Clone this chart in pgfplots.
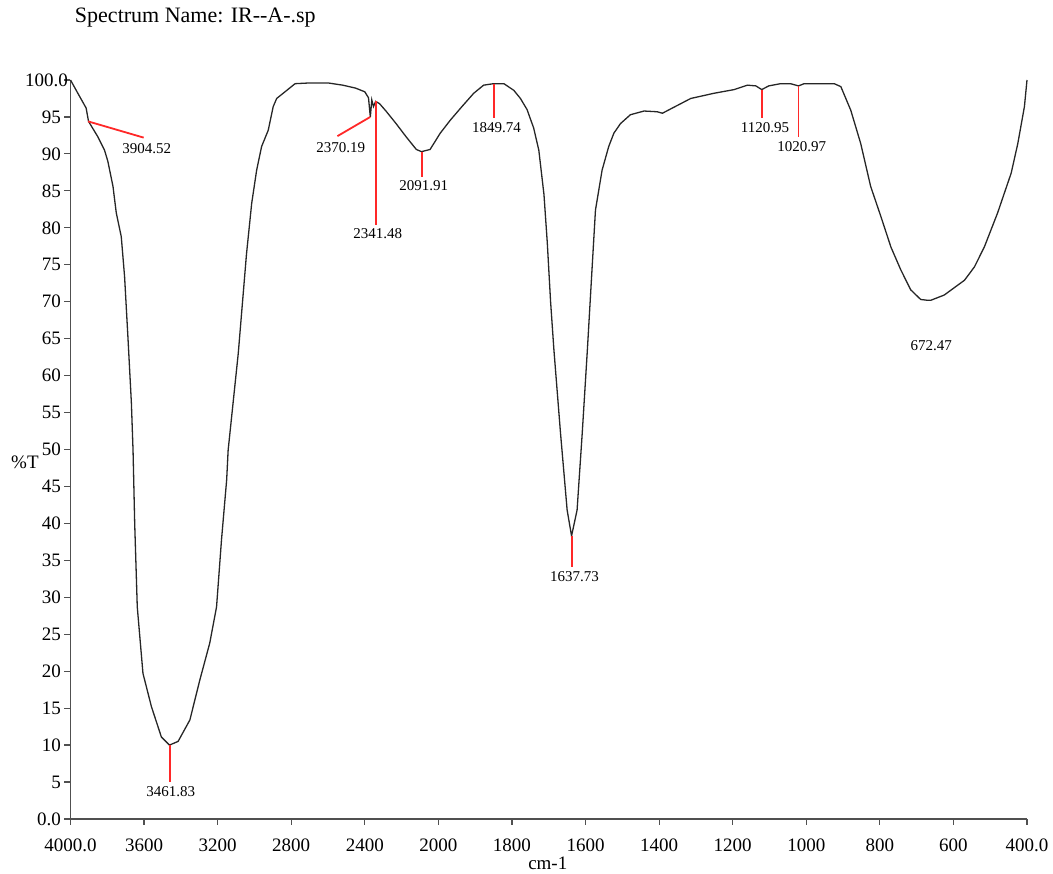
\documentclass[border=0pt]{standalone}
\usepackage{fontspec}
\setmainfont{Liberation Serif}
\usepackage{pgfplots}
\pgfplotsset{compat=1.18}
\definecolor{axgray}{RGB}{80,80,80}
\definecolor{pkred}{RGB}{255,40,40}
\begin{document}
\begin{tikzpicture}
\path[use as bounding box] (-70.5pt,-55pt) rectangle (982.5pt,819pt);
\begin{axis}[
  at={(0pt,0pt)}, anchor=south west,
  scale only axis, width=956.5pt, height=739pt,
  axis lines=left, axis line style={-, axgray, line width=1.6pt},
  x coord trafo/.code={\pgfmathparse{#1>=2000 ? (4000-#1)/2 : 3000-#1}},
  x coord inv trafo/.code={\pgfmathparse{#1<=1000 ? 4000-2*#1 : 3000-#1}},
  xmin=4000, xmax=400, ymin=0, ymax=100,
  xtick={4000,3600,3200,2800,2400,2000,1800,1600,1400,1200,1000,800,600,400},
  xticklabels={4000.0,3600,3200,2800,2400,2000,1800,1600,1400,1200,1000,800,600,400.0},
  ytick={0,5,...,100},
  yticklabels={0.0,5,10,15,20,25,30,35,40,45,50,55,60,65,70,75,80,85,90,95,100.0\kern-7pt},
  tick align=outside, major tick length=6pt,
  tick style={axgray, line width=1.2pt},
  /pgf/number format/assume math mode=true,
  ticklabel style={font=\fontsize{19}{19}\selectfont},
  xticklabel style={yshift=-10pt},
  clip=false,
]
\addplot[black!85, line width=1.3pt] coordinates {
(4000,100) (3960,98.2) (3915,96.2) (3902,94.4) (3851,92.3) (3815,90.5) (3797,89.0)
(3769,85.6) (3751,82.0) (3724,78.8) (3706,73.4) (3688,65.3) (3669,56.3) (3660,49.9)
(3651,40.0) (3637,28.7) (3606,19.7) (3560,15.2) (3506,11.1) (3462,10.0) (3415,10.5)
(3351,13.4) (3297,18.8) (3243,23.8) (3206,28.7) (3179,37.8) (3151,45.9) (3143,49.9)
(3088,63.0) (3043,76.5) (3015,83.3) (2988,87.8) (2961,91.0) (2925,93.2) (2898,96.4)
(2879,97.5) (2834,98.4) (2779,99.5) (2700,99.6) (2600,99.6) (2520,99.3) (2450,98.9)
(2400,98.4) (2380,97.6) (2370,95.0) (2362,97.3) (2353,96.4) (2341,97.1) (2320,96.8)
(2285,95.8) (2230,94.1) (2175,92.3) (2120,90.6) (2092,90.3) (2045,90.6) (1995,92.8)
(1967,94.6) (1936,96.4) (1904,98.2) (1877,99.3) (1850,99.5) (1822,99.5) (1795,98.6)
(1777,97.5) (1759,96.0) (1741,93.5) (1727,90.5) (1713,84.5) (1704,78.0) (1695,70.0)
(1686,63.5) (1668,52.2) (1650,41.8) (1638,38.3) (1623,41.8) (1609,52.2) (1595,63.5)
(1582,74.7) (1573,82.4) (1555,87.8) (1537,91.0) (1523,92.8) (1505,94.1) (1478,95.3)
(1441,95.8) (1405,95.7) (1391,95.5) (1368,96.1) (1341,96.8) (1314,97.5) (1251,98.2)
(1196,98.7) (1160,99.3) (1137,99.2) (1121,98.7) (1102,99.2) (1070,99.5) (1043,99.5)
(1021,99.2) (1006,99.5) (924,99.5) (906,99.1) (879,95.9) (852,91.4) (825,85.6)
(797,81.5) (770,77.4) (743,74.3) (716,71.6) (689,70.3) (672,70.2) (661,70.2)
(625,70.9) (570,72.9) (543,74.7) (516,77.4) (480,82.0) (443,87.4) (425,91.4)
(407,96.4) (400,100)
};
% peak markers
\pgfplotsset{pk/.style={pkred, line width=1.8pt, forget plot}}
\addplot[pk] coordinates {(3904.52,94.4) (3602,92.2)};
\addplot[pk] coordinates {(3459.2,10.0) (3459.2,5.0)};
\addplot[pk] coordinates {(2370.19,95.0) (2549,92.4)};
\addplot[pk] coordinates {(2338.8,97.1) (2338.8,80.4)};
\addplot[pk] coordinates {(2089.3,90.3) (2089.3,86.9)};
\addplot[pk] coordinates {(1849.74,99.5) (1849.74,94.8)};
\addplot[pk] coordinates {(1637.73,38.3) (1637.73,34.1)};
\addplot[pk] coordinates {(1120.95,98.7) (1120.95,94.8)};
\addplot[pk] coordinates {(1020.97,99.2) (1020.97,92.3)};
\begin{scope}[every node/.style={font=\fontsize{15}{15}\selectfont, inner sep=1pt, text=black}]
\node at (axis cs:3586,90.7) {3904.52};
\node[anchor=north] at (axis cs:3455,4.6) {3461.83};
\node at (axis cs:2531,90.9) {2370.19};
\node[anchor=north] at (axis cs:2330,80.0) {2341.48};
\node[anchor=north] at (axis cs:2080,86.5) {2091.91};
\node[anchor=north] at (axis cs:1842,94.4) {1849.74};
\node[anchor=north] at (axis cs:1630,33.7) {1637.73};
\node[anchor=north] at (axis cs:1112,94.4) {1120.95};
\node[anchor=north] at (axis cs:1012,91.9) {1020.97};
\node at (axis cs:660,64.1) {672.47};
\end{scope}
\node[anchor=west, font=\fontsize{22}{22}\selectfont] at (rel axis cs:0.001,1.084) {Spectrum Name: IR-{}-A-.sp};
\node[font=\fontsize{19}{19}\selectfont] at (rel axis cs:-0.0476,0.483) {\%T};
\node[font=\fontsize{19}{19}\selectfont] at (rel axis cs:0.499,-0.060) {cm-1};
\end{axis}
\end{tikzpicture}
\end{document}
